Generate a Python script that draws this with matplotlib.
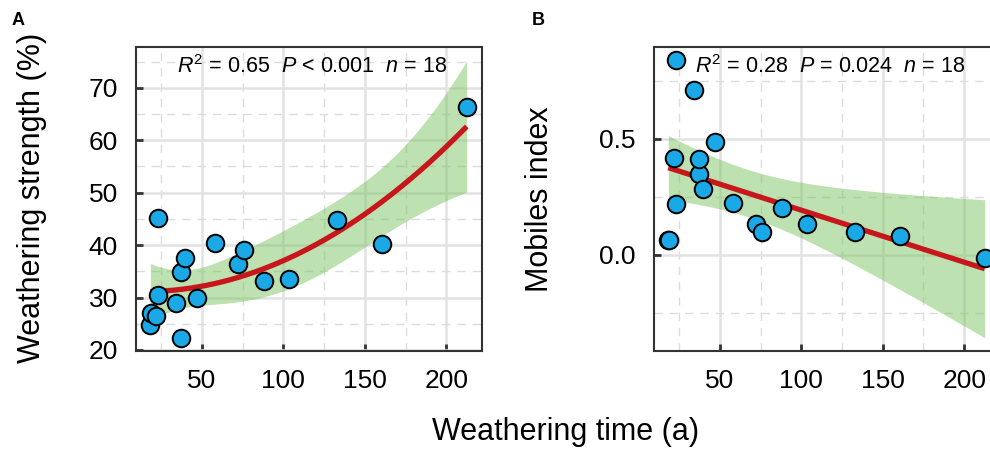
import matplotlib
matplotlib.use("Agg")
import matplotlib.pyplot as plt
import numpy as np
from matplotlib.ticker import MultipleLocator, FormatStrFormatter

plt.rcParams['font.family'] = ['Liberation Sans', 'DejaVu Sans']
plt.rcParams['mathtext.fontset'] = 'custom'
plt.rcParams['mathtext.rm'] = 'Liberation Sans'
plt.rcParams['mathtext.it'] = 'Liberation Sans:italic'

# weathering time (a), shared by both panels
time_a = [18.3, 18.9, 22.0, 23.0, 23.0, 33.8, 36.9, 37.3, 39.3, 46.9,
          58.2, 71.9, 76.1, 88.2, 103.7, 132.8, 160.8, 212.6]
# panel A: weathering strength (%)
strength = [24.8, 27.1, 26.5, 45.1, 30.5, 28.9, 34.8, 22.3, 37.5, 29.9,
            40.4, 36.4, 39.0, 33.2, 33.5, 44.7, 40.2, 66.4]
# panel B: mobiles index
mobiles = [0.062, 0.065, 0.418, 0.840, 0.219, 0.709, 0.350, 0.414, 0.284, 0.487,
           0.223, 0.133, 0.096, 0.202, 0.133, 0.096, 0.079, -0.012]

stats_a = r"$R^2$ = 0.65  $P$ < 0.001  $n$ = 18"
stats_b = r"$R^2$ = 0.28  $P$ = 0.024  $n$ = 18"

BLUE = '#1aa9e6'
RED = '#c8161d'
GREEN = '#7dc462'


def fit_band(x, y, deg, tval):
    x = np.asarray(x)
    y = np.asarray(y)
    X = np.vander(x, deg + 1)
    beta, *_ = np.linalg.lstsq(X, y, rcond=None)
    resid = y - X @ beta
    dof = len(x) - (deg + 1)
    s2 = resid @ resid / dof
    cov = s2 * np.linalg.inv(X.T @ X)
    xs = np.linspace(x.min(), x.max(), 200)
    Xs = np.vander(xs, deg + 1)
    ys = Xs @ beta
    se = np.sqrt(np.einsum('ij,jk,ik->i', Xs, cov, Xs))
    return xs, ys, ys - tval * se, ys + tval * se


def style_axes(ax):
    ax.set_xlim(9.5, 222)
    ax.xaxis.set_major_locator(MultipleLocator(50))
    ax.xaxis.set_minor_locator(MultipleLocator(25))
    ax.grid(which='major', color='#e2e2e2', lw=1.8, zorder=0)
    ax.grid(which='minor', color='#dcdcdc', lw=1.0, ls=(0, (6, 5)), zorder=0)
    ax.set_axisbelow(True)
    ax.tick_params(which='major', direction='in', length=5, width=2,
                   color='#333333', labelsize=19, pad=13)
    ax.tick_params(which='minor', length=0)
    for sp in ax.spines.values():
        sp.set_linewidth(1.5)
        sp.set_color('#333333')


def draw_panel(ax, x, y, deg, tval, stats):
    xs, ys, lo, hi = fit_band(x, y, deg, tval)
    ax.fill_between(xs, lo, hi, color=GREEN, alpha=0.5, lw=0, zorder=1)
    ax.plot(xs, ys, color=RED, lw=3.8, zorder=2, solid_capstyle='butt')
    ax.scatter(x, y, s=160, color=BLUE, edgecolor='black', linewidth=1.4, zorder=3)
    ax.text(0.51, 0.934, stats, transform=ax.transAxes, ha='center', va='center',
            fontsize=15.5)


fig = plt.figure(figsize=(9.9, 4.5), dpi=100)
ax1 = fig.add_axes([0.1374, 0.22, 0.3495, 0.6756])
ax2 = fig.add_axes([0.6606, 0.22, 0.3495, 0.6756])

# A
style_axes(ax1)
ax1.set_ylim(19.8, 77.8)
ax1.yaxis.set_major_locator(MultipleLocator(10))
ax1.yaxis.set_minor_locator(MultipleLocator(5))
draw_panel(ax1, time_a, strength, 2, 2.131, stats_a)
ax1.set_ylabel('Weathering strength (%)', fontsize=22)
ax1.yaxis.set_label_coords(-0.257, 0.505)

# B
style_axes(ax2)
ax2.set_ylim(-0.415, 0.896)
ax2.yaxis.set_major_locator(MultipleLocator(0.5))
ax2.yaxis.set_minor_locator(MultipleLocator(0.25))
ax2.yaxis.set_major_formatter(FormatStrFormatter('%.1f'))
draw_panel(ax2, time_a, mobiles, 1, 2.120, stats_b)
ax2.set_ylabel('Mobiles index', fontsize=22)
ax2.yaxis.set_label_coords(-0.286, 0.5)

fig.text(0.571, 0.04, 'Weathering time (a)', ha='center', va='center', fontsize=22)
fig.text(0.012, 0.955, 'A', fontsize=13, fontweight='bold', va='center')
fig.text(0.537, 0.955, 'B', fontsize=13, fontweight='bold', va='center')

fig.savefig('out.png', dpi=100)
